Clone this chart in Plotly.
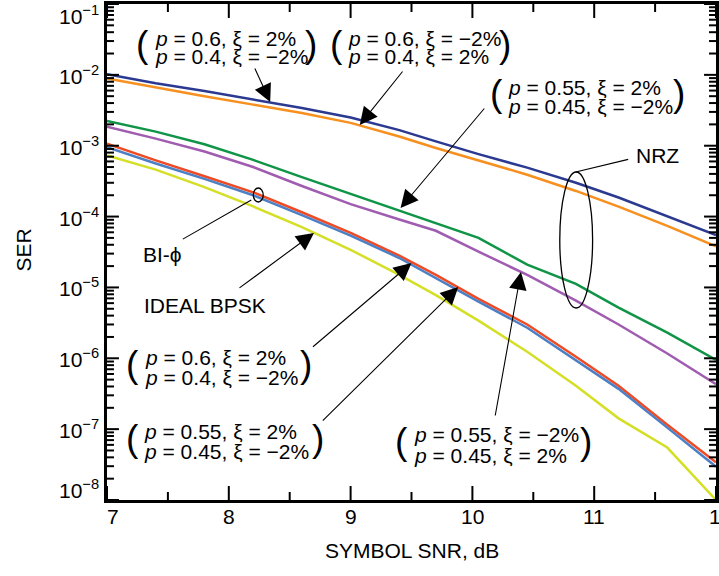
import math
import plotly.graph_objects as go

# Symbol SNR grid (dB)
snr_db = [7.0, 7.4, 7.8, 8.2, 8.6, 9.0, 9.4, 9.7, 10.05, 10.45, 10.85, 11.2, 11.6, 12.0]

# NRZ curves
nrz_p60_xi_p2 = [1.02e-2, 7.6e-3, 5.9e-3, 4.5e-3, 3.4e-3, 2.5e-3, 1.66e-3, 1.15e-3, 7.6e-4, 4.9e-4, 3.0e-4, 1.86e-4, 1.02e-4, 5.5e-5]
nrz_p60_xi_m2 = [8.9e-3, 6.6e-3, 5.0e-3, 3.8e-3, 2.9e-3, 2.1e-3, 1.35e-3, 9.3e-4, 6.2e-4, 3.9e-4, 2.3e-4, 1.38e-4, 7.4e-5, 3.8e-5]
nrz_p55_xi_p2 = [2.24e-3, 1.58e-3, 1.05e-3, 6.3e-4, 3.6e-4, 2.1e-4, 1.2e-4, 8.1e-5, 5.0e-5, 2.1e-5, 1.12e-5, 5.2e-6, 2.3e-6, 9.5e-7]
nrz_p55_xi_m2 = [1.86e-3, 1.26e-3, 8.3e-4, 5.0e-4, 2.7e-4, 1.5e-4, 9.1e-5, 6.3e-5, 3.2e-5, 1.5e-5, 6.5e-6, 3.0e-6, 1.17e-6, 4.3e-7]
# Bi-phase curves
biphi_p60 = [1.07e-3, 6.2e-4, 3.7e-4, 2.2e-4, 1.15e-4, 5.9e-5, 2.8e-5, 1.5e-5, 6.9e-6, 3.0e-6, 1.05e-6, 4.1e-7, 1.15e-7, 3.4e-8]
biphi_p55 = [9.5e-4, 5.6e-4, 3.4e-4, 2.0e-4, 1.05e-4, 5.4e-5, 2.6e-5, 1.35e-5, 6.3e-6, 2.7e-6, 9.5e-7, 3.7e-7, 1.05e-7, 2.95e-8]
# Ideal BPSK
ideal_bpsk = [7.3e-4, 4.6e-4, 2.6e-4, 1.39e-4, 7.1e-5, 3.4e-5, 1.5e-5, 7.8e-6, 3.4e-6, 1.24e-6, 4.1e-7, 1.42e-7, 5.5e-8, 1.0e-8]

x_ticks = [7, 8, 9, 10, 11, 12]
y_exponents = [-1, -2, -3, -4, -5, -6, -7, -8]
minor_digits = [2, 3, 4, 5, 6, 7, 8, 9]

series = [
    (nrz_p60_xi_p2, "#2b3990"),
    (nrz_p60_xi_m2, "#f7901e"),
    (nrz_p55_xi_p2, "#109447"),
    (nrz_p55_xi_m2, "#a05cb0"),
    (biphi_p60, "#ef4a24"),
    (biphi_p55, "#4d7fc4"),
    (ideal_bpsk, "#d4df26"),
]

W, H = 719, 576
ML, MR, MT, MB = 107, 0, 4, 76
PW, PH = W - ML - MR, H - MT - MB
FONT = "Liberation Sans, Arial, sans-serif"
X_RANGE = [7, 12]
Y_RANGE = [-8, -1]


def px(xp):
    return (xp - ML) / PW


def py(yp):
    return (H - MB - yp) / PH


fig = go.Figure()
for vals, color in series:
    fig.add_trace(go.Scatter(x=snr_db, y=vals, mode="lines",
                             line=dict(color=color, width=2.5),
                             showlegend=False, hoverinfo="skip"))

ann = []

# y tick labels
for e in y_exponents:
    shift = 0
    if e == -1:
        shift = -11
    elif e == -8:
        shift = 11
    ann.append(dict(x=0, xref="paper", y=e, yref="y", xanchor="right", yanchor="middle",
                    xshift=-6, yshift=shift, showarrow=False,
                    text="10<sup>\u2212%d</sup>" % (-e), font=dict(size=21)))

# x tick labels
for v in x_ticks:
    shift = 6 if v == 7 else (4 if v == 12 else 0)
    ann.append(dict(x=v, xref="x", y=0, yref="paper", xanchor="center", yanchor="middle",
                    xshift=shift, yshift=-16, showarrow=False, text=str(v),
                    font=dict(size=21)))

# axis titles
ann.append(dict(x=px(413), xref="paper", y=py(550), yref="paper", showarrow=False,
                text="SYMBOL SNR, dB", font=dict(size=21), xanchor="center", yanchor="middle"))
ann.append(dict(x=px(23), xref="paper", y=py(250), yref="paper", showarrow=False,
                text="SER", textangle=-90, font=dict(size=21), xanchor="center", yanchor="middle"))

# parameter labels: (left x, line1 y, line2 y, line1, line2, left paren x, right paren x)
labels = [
    (153, 38.3, 56.7, "<i>p</i> = 0.6, \u03be = 2%", "<i>p</i> = 0.4, \u03be = \u22122%", 143, 312),
    (347, 38.3, 56.7, "<i>p</i> = 0.6, \u03be = \u22122%", "<i>p</i> = 0.4, \u03be = 2%", 338, 507),
    (508, 87.5, 106.5, "<i>p</i> = 0.55, \u03be = 2%", "<i>p</i> = 0.45, \u03be = \u22122%", 498, 682),
    (143, 357.5, 377.5, "<i>p</i> = 0.6, \u03be = 2%", "<i>p</i> = 0.4, \u03be = \u22122%", 133, 307),
    (142, 431, 451, "<i>p</i> = 0.55, \u03be = 2%", "<i>p</i> = 0.45, \u03be = \u22122%", 133, 319),
    (413, 434, 455, "<i>p</i> = 0.55, \u03be = \u22122%", "<i>p</i> = 0.45, \u03be = 2%", 403, 588),
]
for xl, y1, y2, t1, t2, lp, rp in labels:
    for yy, tt in ((y1, t1), (y2, t2)):
        ann.append(dict(x=px(xl), xref="paper", y=py(yy), yref="paper", xanchor="left",
                        yanchor="middle", showarrow=False, text=tt, font=dict(size=21)))
    yc = (y1 + y2) / 2 - 3
    for xp, ch in ((lp, "("), (rp, ")")):
        ann.append(dict(x=px(xp), xref="paper", y=py(yc), yref="paper", xanchor="center",
                        yanchor="middle", showarrow=False, text=ch, font=dict(size=37)))

# plain labels
ann.append(dict(x=px(660), xref="paper", y=py(155.5), yref="paper", showarrow=False,
                text="NRZ", font=dict(size=21), xanchor="center", yanchor="middle"))
ann.append(dict(x=px(163), xref="paper", y=py(254.5), yref="paper", showarrow=False,
                text="BI-\u03d5", font=dict(size=21), xanchor="center", yanchor="middle"))
ann.append(dict(x=px(205), xref="paper", y=py(305), yref="paper", showarrow=False,
                text="IDEAL BPSK", font=dict(size=21), xanchor="center", yanchor="middle"))

# pointer arrows: (tip x, tip y, tail x, tail y, with head)
pointers = [
    (271, 102, 255, 67, True),
    (361, 125, 405, 70, True),
    (402, 208, 487, 107, True),
    (413, 263, 313, 348, True),
    (460, 287, 323, 422, True),
    (523, 272, 497, 417, True),
    (315, 233, 239, 289, True),
    (252, 200, 182, 240, False),
    (578, 172, 632, 159, False),
]
for tx, ty, sx, sy, head in pointers:
    ann.append(dict(x=px(tx), xref="paper", y=py(ty), yref="paper", text="",
                    showarrow=True, arrowhead=2 if head else 0, arrowsize=3.2,
                    arrowwidth=1.1, arrowcolor="black", ax=sx - tx, ay=sy - ty,
                    standoff=0, startstandoff=0))

shapes = [
    dict(type="circle", xref="paper", yref="paper", x0=px(562), x1=px(595),
         y0=py(308), y1=py(172), line=dict(color="black", width=1.3)),
    dict(type="circle", xref="paper", yref="paper", x0=px(254), x1=px(264),
         y0=py(202), y1=py(188), line=dict(color="black", width=1.3)),
]

# axis tick marks, drawn inward on all four sides (lengths in pixels)
TICK = dict(color="black", width=2)
minor_y = [d * 10.0 ** e for e in y_exponents[1:] for d in minor_digits]
minor_x = [v + 0.5 for v in x_ticks[:-1]]
y_marks = [(10.0 ** e, 12) for e in y_exponents] + [(v, 7) for v in minor_y]
x_marks = [(v, 14) for v in x_ticks] + [(v, 8) for v in minor_x]
for v, ln in y_marks:
    yp = (math.log10(v) - Y_RANGE[0]) / (Y_RANGE[1] - Y_RANGE[0])
    lw = ln / PW
    for a, b in ((0.0, lw), (1.0 - lw, 1.0)):
        shapes.append(dict(type="line", xref="paper", yref="paper",
                           x0=a, x1=b, y0=yp, y1=yp, line=TICK, layer="above"))
for v, ln in x_marks:
    xp = (v - X_RANGE[0]) / (X_RANGE[1] - X_RANGE[0])
    lh = ln / PH
    for a, b in ((0.0, lh), (1.0 - lh, 1.0)):
        shapes.append(dict(type="line", xref="paper", yref="paper",
                           x0=xp, x1=xp, y0=a, y1=b, line=TICK, layer="above"))

fig.update_layout(
    width=W, height=H,
    margin=dict(l=ML, r=MR, t=MT, b=MB, pad=0),
    paper_bgcolor="white", plot_bgcolor="white",
    font=dict(family=FONT, color="black", size=21),
    annotations=ann, shapes=shapes,
    xaxis=dict(range=X_RANGE, showgrid=False, zeroline=False, showline=True,
               linecolor="black", linewidth=2.5, mirror=True, ticks="",
               showticklabels=False),
    yaxis=dict(type="log", range=Y_RANGE, showgrid=False, zeroline=False, showline=True,
               linecolor="black", linewidth=2.5, mirror=True, ticks="",
               showticklabels=False),
)

fig.write_html("out.html")
